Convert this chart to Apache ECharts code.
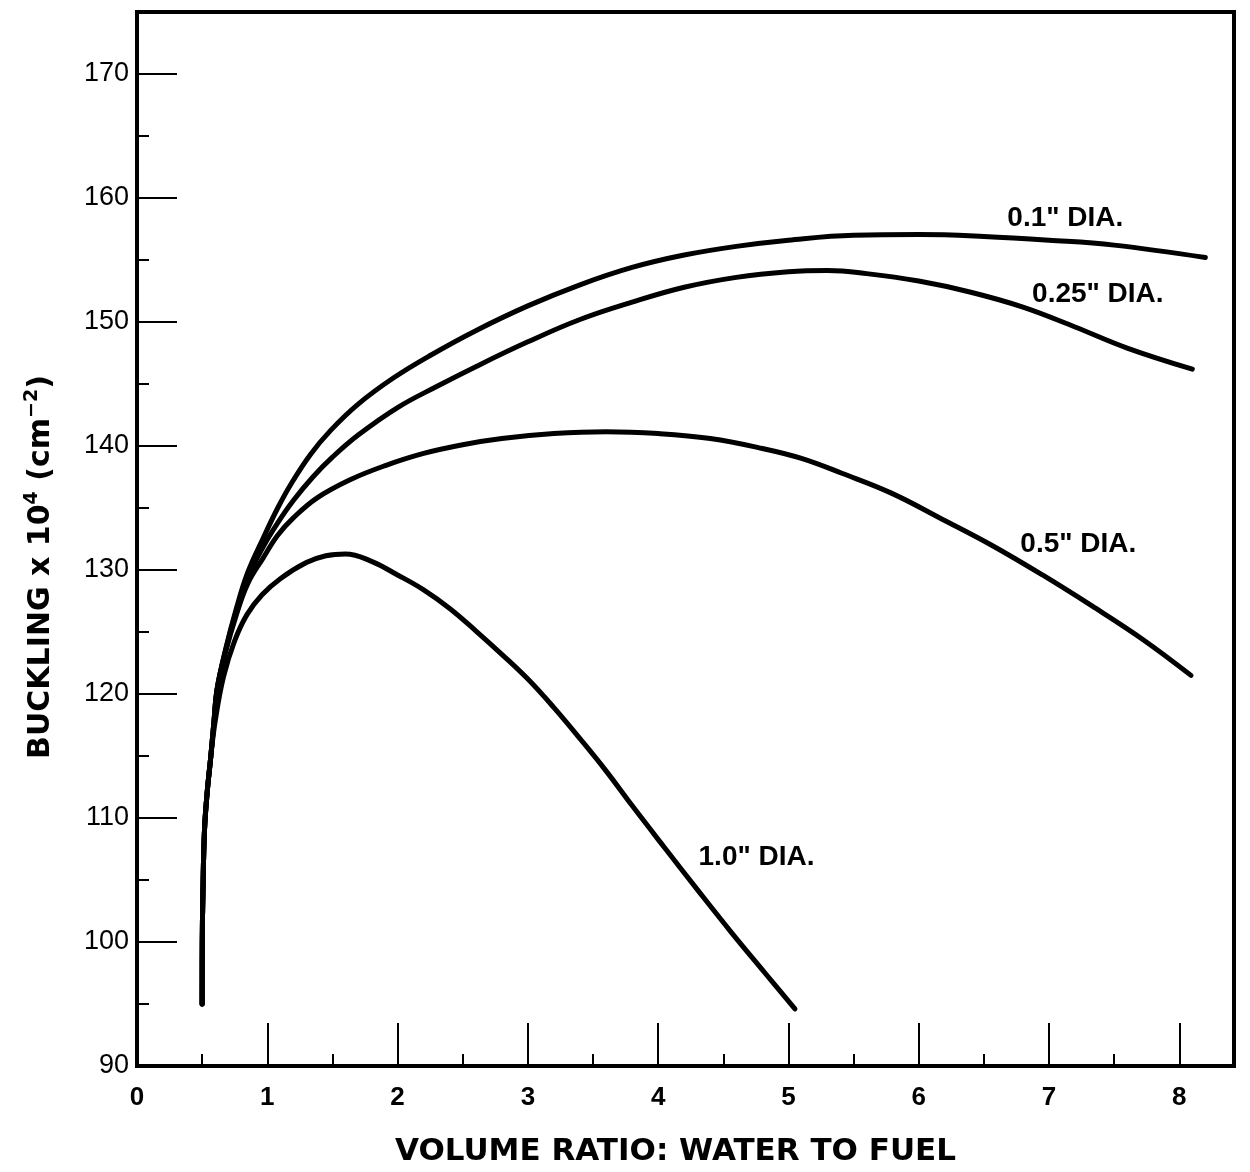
<!DOCTYPE html>
<html lang="en">
<head>
<meta charset="UTF-8">
<title>Buckling vs volume ratio</title>
<script src="https://cdn.jsdelivr.net/npm/echarts@6/dist/echarts.min.js"></script>
<style>
    html, body { margin: 0; padding: 0; background: #fff; }
    #main { width: 1250px; height: 1172px; }
</style>
</head>
<body>
<div id="main"></div>
<script>
// curve values: [volume ratio, buckling x 10^4]
var dia01 = [[0.5,95],[0.501,100],[0.506,104],[0.518,109],[0.538,112],[0.565,114.8],[0.59,117.7],
    [0.615,120.4],[0.68,123.6],[0.76,126.8],[0.85,129.8],[0.97,132.6],[1.08,135.0],[1.18,136.9],
    [1.33,139.3],[1.49,141.3],[1.7,143.4],[1.97,145.5],[2.25,147.3],[2.6,149.3],[3.0,151.3],
    [3.4,153.0],[3.8,154.4],[4.2,155.4],[4.6,156.1],[5.0,156.6],[5.5,157.0],[6.0,157.05],
    [6.5,156.9],[7.0,156.6],[7.5,156.2],[8.2,155.2]];
var dia025 = [[0.5,95],[0.501,100],[0.506,104],[0.518,109],[0.538,112],[0.565,114.8],[0.59,117.7],
    [0.615,120.4],[0.68,123.5],[0.76,126.6],[0.85,129.4],[0.97,131.9],[1.08,133.8],[1.2,135.6],
    [1.35,137.5],[1.5,139.1],[1.7,140.9],[2.0,143.1],[2.3,144.8],[2.6,146.4],[3.0,148.4],
    [3.4,150.2],[3.8,151.6],[4.2,152.8],[4.6,153.6],[5.0,154.05],[5.3,154.15],[5.6,153.9],
    [6.0,153.3],[6.4,152.4],[6.8,151.2],[7.2,149.6],[7.6,147.9],[8.1,146.2]];
var dia05 = [[0.5,95],[0.501,100],[0.506,104],[0.518,109],[0.538,112],[0.565,114.8],[0.59,117.7],
    [0.615,120.4],[0.68,123.4],[0.76,126.3],[0.85,128.9],[0.97,131.0],[1.08,132.8],[1.2,134.2],
    [1.38,135.8],[1.64,137.3],[1.9,138.4],[2.2,139.4],[2.5,140.1],[2.8,140.6],[3.2,141.0],
    [3.6,141.15],[4.0,141.0],[4.4,140.6],[4.8,139.8],[5.1,139.0],[5.41,137.8],[5.79,136.2],
    [6.18,134.1],[6.56,132.0],[6.95,129.6],[7.33,127.1],[7.72,124.4],[8.09,121.5]];
var dia10 = [[0.5,95],[0.501,100],[0.506,104],[0.518,109],[0.538,112],[0.567,115],[0.6,117.8],
    [0.664,121.4],[0.75,124.3],[0.844,126.4],[0.96,128.0],[1.1,129.3],[1.3,130.6],[1.45,131.15],
    [1.6,131.3],[1.8,130.7],[2.0,129.6],[2.2,128.4],[2.4,126.9],[2.6,125.1],[2.8,123.2],
    [3.0,121.2],[3.2,118.9],[3.4,116.4],[3.6,113.8],[3.8,111.0],[4.05,107.6],[4.31,104.1],
    [4.56,100.8],[4.82,97.5],[5.05,94.6]];

// curve labels, anchored at the left edge of the text
var labelX = [6.68, 6.87, 6.78, 4.31];
var labelY = [158.4, 152.2, 132.1, 106.8];
var labelText = ['0.1" DIA.', '0.25" DIA.', '0.5" DIA.', '1.0" DIA.'];

var xMajor = [0,1,2,3,4,5,6,7,8];
var xMinor = [0.5,1.5,2.5,3.5,4.5,5.5,6.5,7.5];
var yMajor = [90,100,110,120,130,140,150,160,170];
var yMinor = [95,105,115,125,135,145,155,165];

var myChart = echarts.init(document.getElementById('main'));

function curve(data) {
    return {
        type: 'line',
        data: data,
        showSymbol: false,
        smooth: 0.4,
        lineStyle: { color: '#000', width: 5, cap: 'round', join: 'round' },
        z: 3
    };
}

var option = {
    animation: false,
    backgroundColor: '#fff',
    grid: {
        left: 137, right: 16, top: 12, bottom: 94,
        show: true, borderColor: '#000', borderWidth: 4
    },
    xAxis: [{
        type: 'value', min: 0, max: 8.42,
        name: 'VOLUME RATIO: WATER TO FUEL',
        nameLocation: 'middle', nameGap: 70,
        nameTextStyle: { fontFamily: 'DejaVu Sans', fontWeight: 'bold', fontSize: 31, color: '#000', padding: [0, 20, 0, 0] },
        axisLine: { lineStyle: { color: '#000', width: 4 } },
        axisTick: { inside: true, length: 43, lineStyle: { color: '#000', width: 2 }, customValues: xMajor },
        axisLabel: { customValues: xMajor, margin: 19, fontFamily: 'Liberation Sans', fontWeight: 'bold', fontSize: 26, color: '#000' },
        splitLine: { show: false }
    }, {
        type: 'value', min: 0, max: 8.42, position: 'bottom',
        axisLine: { show: false },
        axisTick: { inside: true, length: 12, lineStyle: { color: '#000', width: 2 }, customValues: xMinor },
        axisLabel: { show: false },
        splitLine: { show: false }
    }],
    yAxis: [{
        type: 'value', min: 90, max: 175,
        name: '{a|BUCKLING x 10}{s|4}{a| (cm}{s|−2}{a|)}',
        nameLocation: 'middle', nameGap: 78, nameRotate: 90,
        nameTextStyle: {
            padding: [0, 56, 0, 0],
            rich: {
                a: { fontFamily: 'DejaVu Sans', fontWeight: 'bold', fontSize: 30, color: '#000', lineHeight: 36 },
                s: { fontFamily: 'DejaVu Sans', fontWeight: 'bold', fontSize: 19, color: '#000', lineHeight: 36, verticalAlign: 'top', padding: [0, 0, 15, 0] }
            }
        },
        axisLine: { lineStyle: { color: '#000', width: 4 } },
        axisTick: { inside: true, length: 40, lineStyle: { color: '#000', width: 2 }, customValues: yMajor },
        axisLabel: { customValues: yMajor, margin: 8, fontFamily: 'Liberation Sans', fontSize: 27, color: '#000' },
        splitLine: { show: false }
    }, {
        type: 'value', min: 90, max: 175, position: 'left',
        axisLine: { show: false },
        axisTick: { inside: true, length: 12, lineStyle: { color: '#000', width: 2 }, customValues: yMinor },
        axisLabel: { show: false },
        splitLine: { show: false }
    }],
    series: [
        curve(dia01),
        curve(dia025),
        curve(dia05),
        curve(dia10)
    ]
};

myChart.setOption(option);

// place the curve labels through the axes
var texts = [];
for (var i = 0; i < labelText.length; i++) {
    var p = myChart.convertToPixel({ gridIndex: 0 }, [labelX[i], labelY[i]]);
    texts.push({
        type: 'text', x: p[0], y: p[1], z: 10,
        style: {
            text: labelText[i], fill: '#000',
            font: 'bold 28px "Liberation Sans"',
            align: 'left', verticalAlign: 'middle'
        }
    });
}
myChart.setOption({ graphic: texts });
</script>
</body>
</html>
